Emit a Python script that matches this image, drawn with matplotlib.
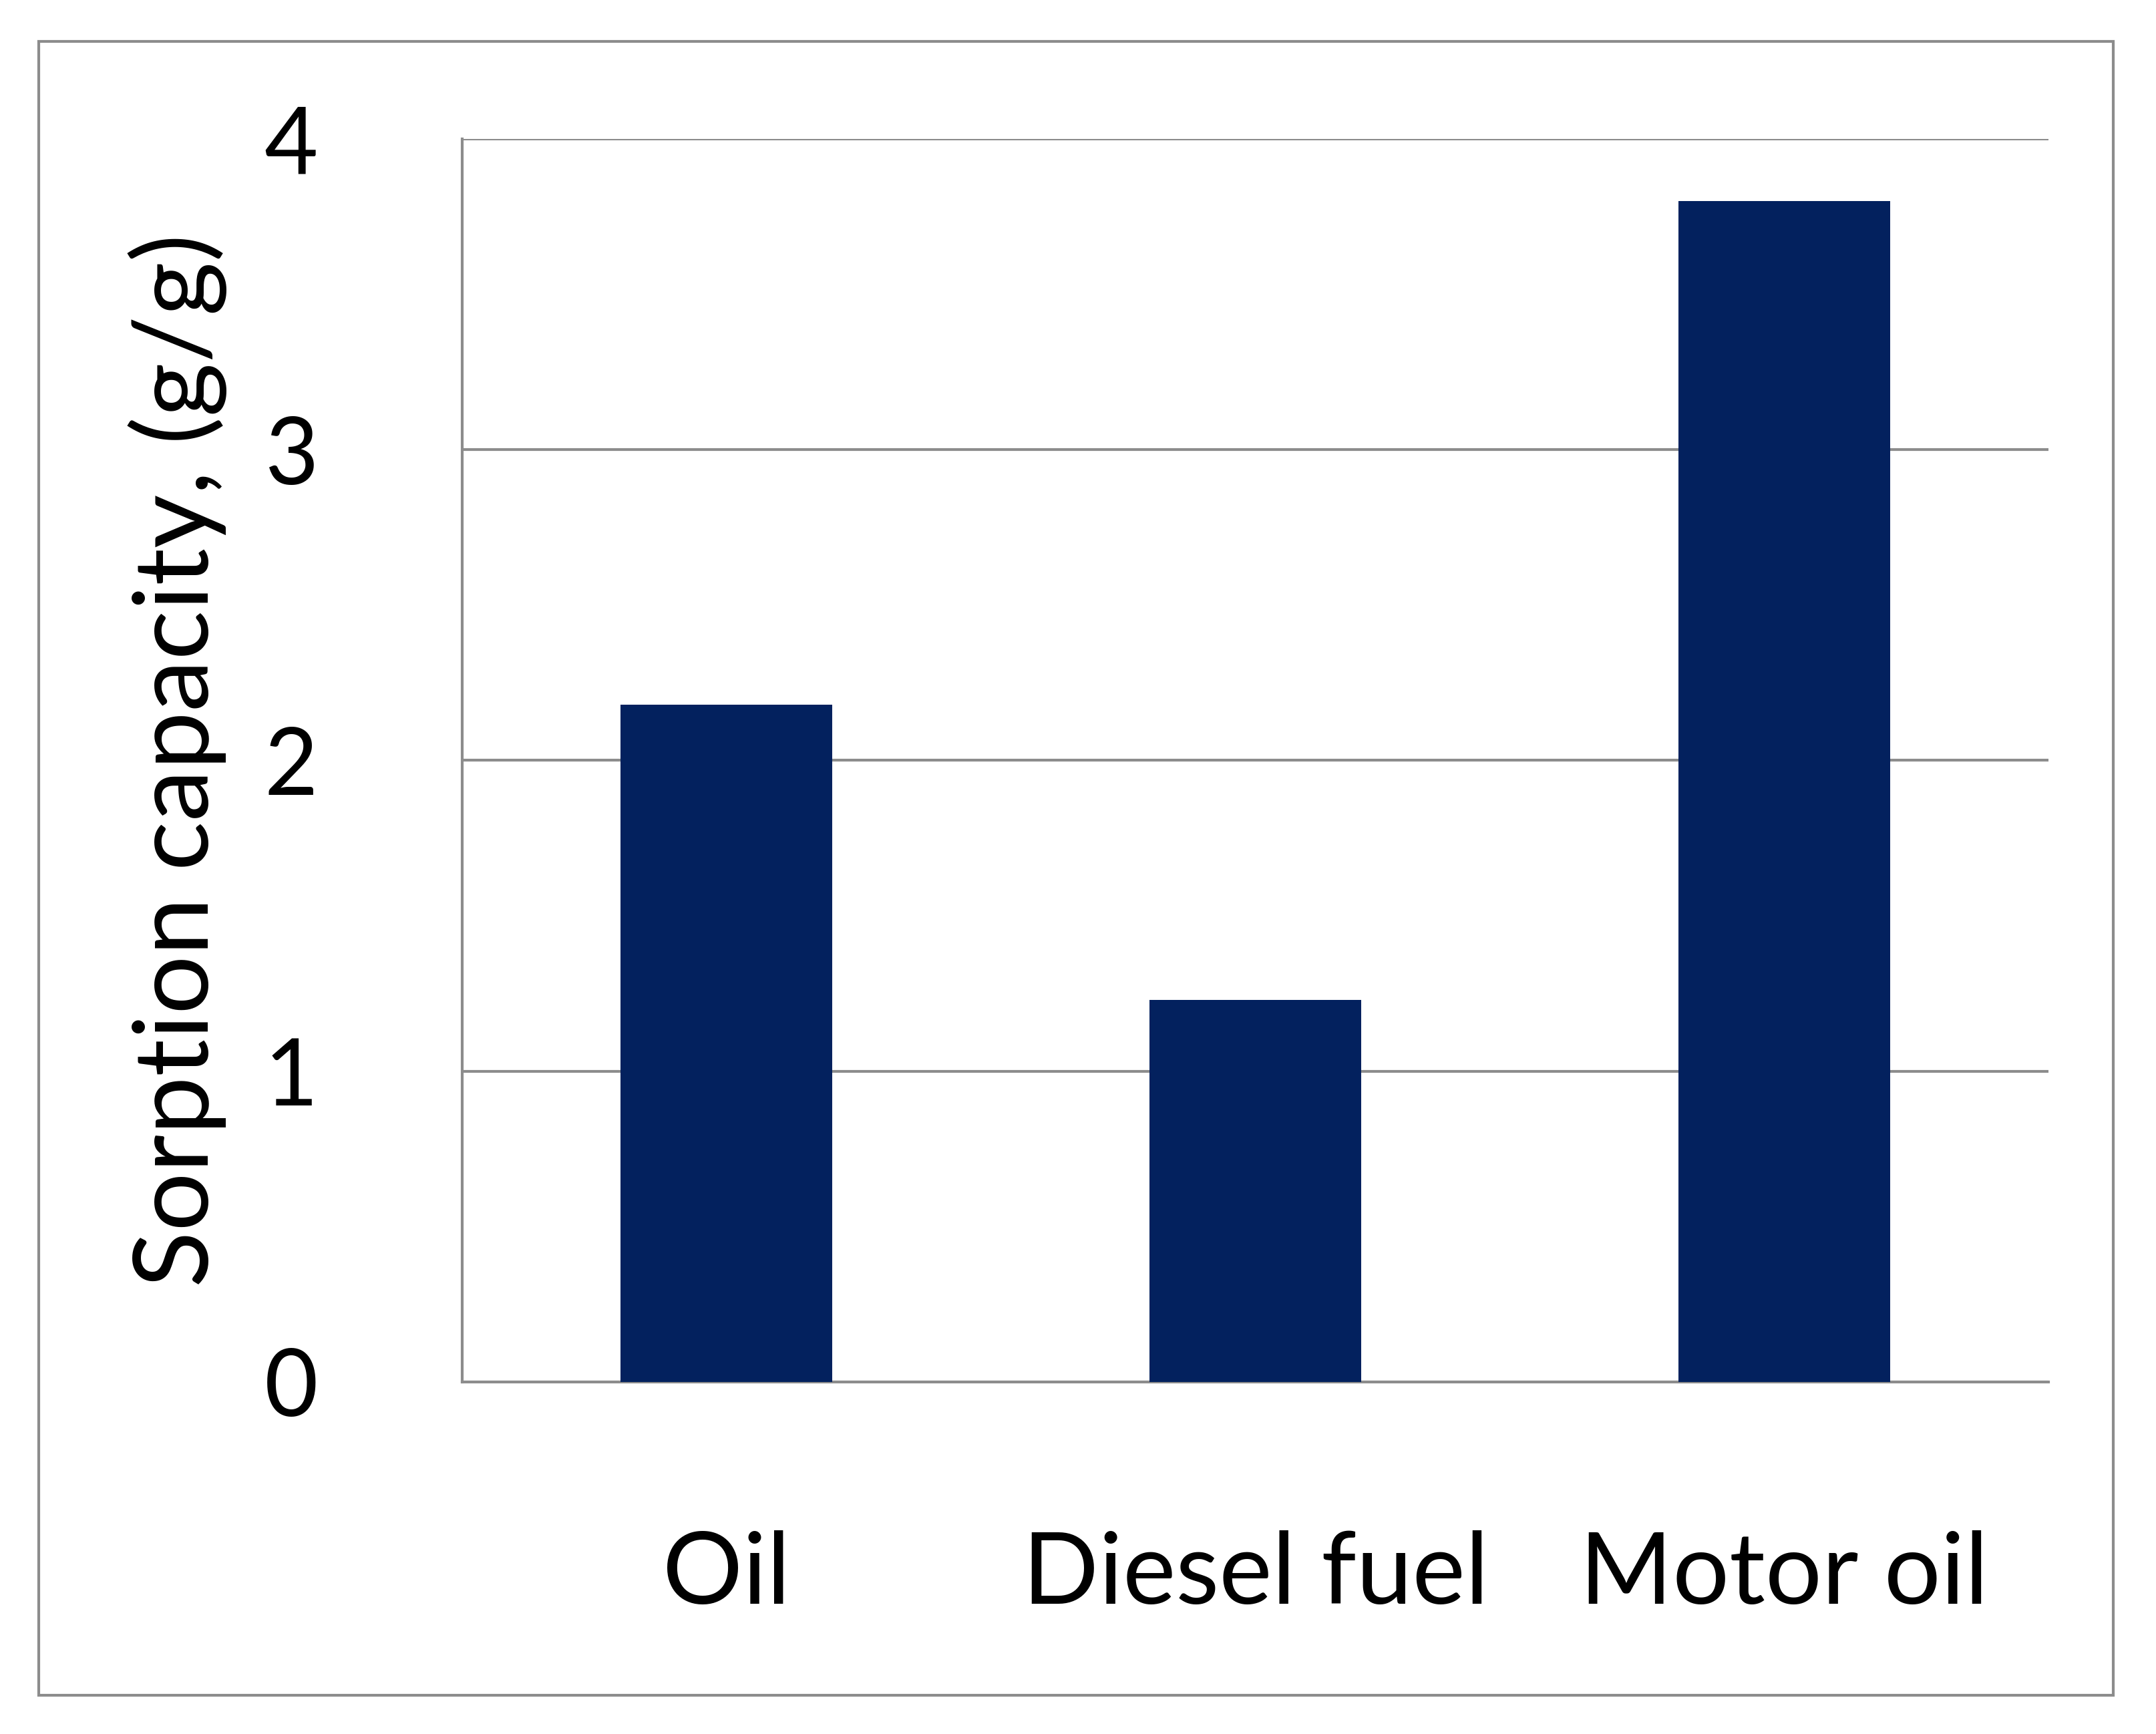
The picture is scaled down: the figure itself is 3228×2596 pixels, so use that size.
import matplotlib
matplotlib.use("Agg")
import matplotlib.pyplot as plt
from matplotlib.patches import Rectangle

categories = ["Oil", "Diesel fuel", "Motor oil"]
values = [2.18, 1.23, 3.80]
yticks = [0, 1, 2, 3, 4]

plt.rcParams['font.family'] = ['Lato', 'DejaVu Sans']
fig = plt.figure(figsize=(32.28, 25.96), dpi=100)
fig.patches.append(Rectangle((28/1568, 1-1233/1261), (1537-28)/1568, (1233-30)/1261,
                             transform=fig.transFigure, fill=False, edgecolor='#8c8c8c', lw=3))
ax = fig.add_axes([336/1568, 1-1005/1261, (1490-336)/1568, (1005-101)/1261])
ax.bar(range(len(categories)), values, width=0.4, color='#03215e', zorder=3)
ax.set_xlim(-0.5, 2.5)
ax.set_ylim(0, 4)
ax.set_yticks(yticks)
ax.set_xticks(range(len(categories)))
ax.set_xticklabels(categories, fontsize=108)
ax.set_yticklabels([str(t) for t in yticks], fontsize=100)
ax.tick_params(length=0)
ax.tick_params(axis='x', pad=160)
ax.tick_params(axis='y', pad=155)
ax.grid(axis='y', color='#8c8c8c', lw=3, zorder=0)
for s in ['top', 'right']:
    ax.spines[s].set_visible(False)
for s in ['left', 'bottom']:
    ax.spines[s].set_color('#8c8c8c')
    ax.spines[s].set_linewidth(3)
ax.set_ylabel("Sorption capacity, (g/g)", fontsize=112, labelpad=40)
fig.savefig("out.png", dpi=100)
